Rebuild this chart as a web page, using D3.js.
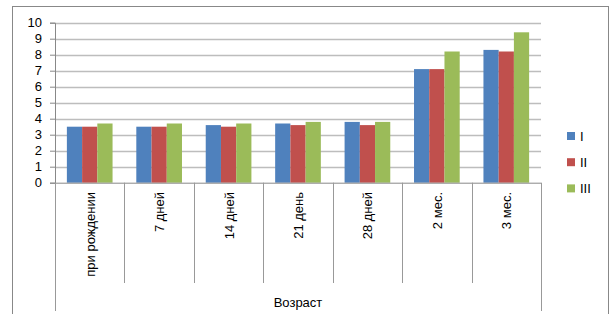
<!DOCTYPE html>
<html>
<head>
<meta charset="utf-8">
<script src="https://cdn.jsdelivr.net/npm/d3@7"></script>
<style>
html,body{margin:0;padding:0;background:#fff;}
svg text{font-family:"Liberation Sans","DejaVu Sans",sans-serif;fill:#000;}
</style>
</head>
<body>
<svg id="chart" width="611" height="314"></svg>
<script>
const categories = ["при рождении","7 дней","14 дней","21 день","28 дней","2 мес.","3 мес."];
const seriesNames = ["I","II","III"];
const seriesI   = [3.5, 3.5, 3.6, 3.7, 3.8, 7.1, 8.3];
const seriesII  = [3.5, 3.5, 3.5, 3.6, 3.6, 7.1, 8.2];
const seriesIII = [3.7, 3.7, 3.7, 3.8, 3.8, 8.2, 9.4];
const yTicks = [0,1,2,3,4,5,6,7,8,9,10];
const xTitle = "Возраст";
const colors = ["#4F81BD","#C0504D","#9BBB59"];

(function(){
const svg = d3.select("#chart");
const pL = 55, pR = 541, pT = 22.7, pB = 182.7;

// outer frame
svg.append("rect").attr("x",12.5).attr("y",6.5).attr("width",596).attr("height",320)
  .attr("fill","none").attr("stroke","#888").attr("stroke-width",1);

const x0 = d3.scaleBand().domain(categories).range([pL,pR]).paddingInner(0).paddingOuter(0);
const x1 = d3.scaleBand().domain(seriesNames).range([0,x0.bandwidth()]).paddingInner(0).paddingOuter(0.78);
const y = d3.scaleLinear().domain([0,10]).range([pB,pT]);

// gridlines
svg.append("g").selectAll("line").data(yTicks.filter(d=>d>0)).join("line")
  .attr("x1",pL).attr("x2",pR)
  .attr("y1",d=>Math.round(y(d))+0.5).attr("y2",d=>Math.round(y(d))+0.5)
  .attr("stroke","#BDBDBD").attr("stroke-width",1.5);

// y axis
const yAxis = d3.axisLeft(y).tickValues(yTicks).tickSize(5).tickPadding(8).tickFormat(d3.format("d"));
const gy = svg.append("g").attr("transform",`translate(${pL},0)`).call(yAxis);
gy.select(".domain").attr("stroke","#888");
gy.selectAll(".tick line").attr("stroke","#888");
gy.selectAll("text").style("font-size","13px").attr("fill","#000");

// bars
const data = categories.map((c,i)=>({c, vals:[seriesI[i],seriesII[i],seriesIII[i]]}));
const groups = svg.append("g").selectAll("g").data(data).join("g")
  .attr("transform",d=>`translate(${x0(d.c)},0)`);
groups.selectAll("rect").data(d=>d.vals.map((v,j)=>({s:seriesNames[j],v,j}))).join("rect")
  .attr("x",d=>x1(d.s)).attr("width",x1.bandwidth())
  .attr("y",d=>y(d.v)).attr("height",d=>y(0)-y(d.v))
  .attr("fill",d=>colors[d.j]);

// x axis line
svg.append("line").attr("x1",pL).attr("x2",pR).attr("y1",pB+0.5).attr("y2",pB+0.5)
  .attr("stroke","#888");

// category separators
const bounds = categories.map(c=>x0(c)).concat([pR]);
svg.append("g").selectAll("line").data(bounds).join("line")
  .attr("x1",d=>Math.round(d)+0.5).attr("x2",d=>Math.round(d)+0.5)
  .attr("y1",pB).attr("y2",(d,i)=> (i===0||i===bounds.length-1)?311:283)
  .attr("stroke","#999");

// category labels rotated
svg.append("g").selectAll("text").data(categories).join("text")
  .attr("transform",d=>`translate(${x0(d)+x0.bandwidth()/2+5},192) rotate(-90)`)
  .attr("text-anchor","end").style("font-size","13px").text(d=>d);

// axis title
svg.append("text").attr("x",(pL+pR)/2).attr("y",307).attr("text-anchor","middle")
  .style("font-size","13px").text(xTitle);

// legend
const leg = svg.append("g").selectAll("g").data(seriesNames).join("g")
  .attr("transform",(d,i)=>`translate(567,${136+i*26.2})`);
leg.append("rect").attr("x",0).attr("y",-4).attr("width",8).attr("height",8).attr("fill",(d,i)=>colors[i]);
leg.append("text").attr("x",13).attr("y",4.5).style("font-size","13px").text(d=>d);
})();
</script>
</body>
</html>
